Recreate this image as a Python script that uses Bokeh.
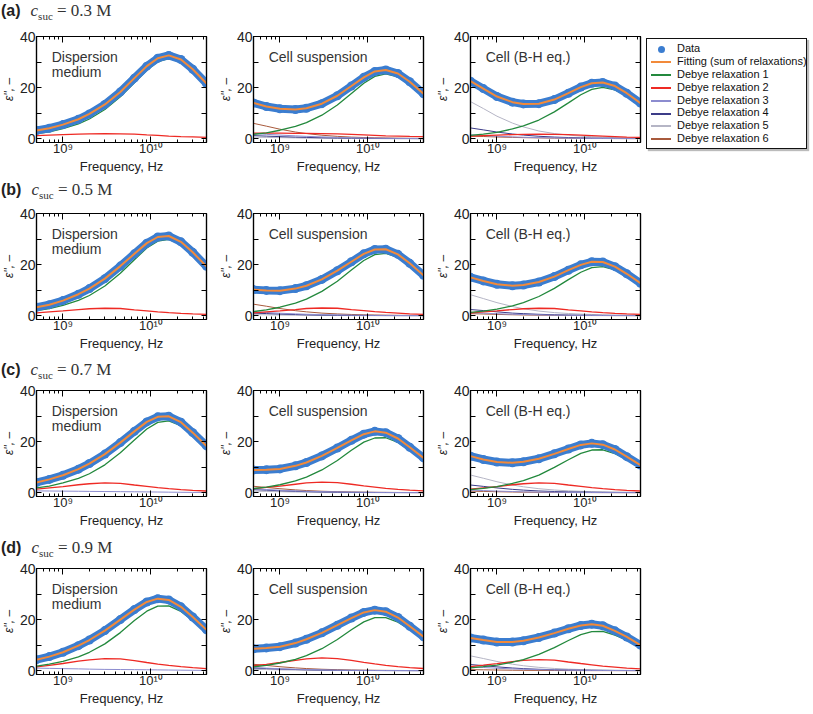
from bokeh.plotting import figure
from bokeh.models import (Range1d, FixedTicker, LogAxis, LinearAxis, Label, Div)
from bokeh.layouts import row, column
from bokeh.embed import file_html
from bokeh.resources import INLINE

# ---------------- data ----------------
FREQ_GHZ = [0.5, 0.7, 1.0, 1.5, 2.0, 3.0, 4.5, 6.5, 9.0, 12.0, 16.0, 22.0, 30.0, 43.0]

ROW_LETTERS = ["a", "b", "c", "d"]
ROW_CONC = ["0.3", "0.5", "0.7", "0.9"]
COLUMN_TITLES = [["Dispersion", "medium"], ["Cell suspension"], ["Cell (B-H eq.)"]]
LEGEND_LABELS = ["Data", "Fitting (sum of relaxations)", "Debye relaxation 1",
                 "Debye relaxation 2", "Debye relaxation 3", "Debye relaxation 4",
                 "Debye relaxation 5", "Debye relaxation 6"]

# (a) 0.3 M
a_disp_data = [3.2, 4.1, 5.5, 7.6, 9.7, 13.4, 18.3, 23.7, 28.4, 31.5, 32.6, 31.0, 27.2, 21.6]
a_disp_r1 = [2.0, 2.7, 3.9, 5.8, 7.7, 11.4, 16.4, 21.9, 26.8, 30.1, 31.4, 30.0, 26.4, 21.0]
a_disp_r2 = [1.2, 1.4, 1.6, 1.8, 1.9, 2.0, 1.9, 1.8, 1.5, 1.3, 1.0, 0.8, 0.7, 0.5]

a_susp_data = [14.0, 12.6, 11.7, 11.4, 11.9, 13.7, 16.8, 20.6, 24.0, 26.3, 26.9, 25.5, 22.3, 17.6]
a_susp_r1 = [1.7, 2.3, 3.3, 4.8, 6.3, 9.2, 13.2, 17.7, 21.7, 24.4, 25.4, 24.2, 21.1, 16.6]
a_susp_r2 = [2.2, 2.2, 2.2, 2.1, 2.1, 2.0, 1.9, 1.7, 1.5, 1.3, 1.1, 1.0, 0.9, 0.8]
a_susp_r3 = [2.0, 1.7, 1.4, 1.1, 0.9, 0.7, 0.5, 0.35, 0.25, 0.2, 0.15, 0.1, 0.08, 0.05]
a_susp_r4 = [1.2, 1.0, 0.8, 0.6, 0.5, 0.35, 0.25, 0.2, 0.15, 0.1, 0.1, 0.05, 0.05, 0.0]
a_susp_r5 = [0.6, 0.5, 0.4, 0.3, 0.2, 0.15, 0.1, 0.1, 0.05, 0.05, 0.0, 0.0, 0.0, 0.0]
a_susp_r6 = [6.0, 4.9, 3.7, 2.6, 2.0, 1.35, 0.9, 0.62, 0.45, 0.34, 0.26, 0.19, 0.14, 0.1]

a_cell_data = [22.5, 19.6, 16.5, 14.3, 13.6, 13.7, 15.3, 17.8, 20.2, 21.7, 22.0, 20.6, 17.8, 13.9]
a_cell_r1 = [1.3, 1.8, 2.5, 3.8, 5.0, 7.3, 10.5, 14.0, 17.2, 19.3, 20.1, 19.1, 16.7, 13.1]
a_cell_r2 = [1.0, 1.2, 1.4, 1.6, 1.7, 1.8, 1.7, 1.6, 1.4, 1.2, 1.0, 0.8, 0.6, 0.5]
a_cell_r3 = [1.5, 1.25, 0.95, 0.7, 0.55, 0.4, 0.3, 0.2, 0.15, 0.1, 0.08, 0.06, 0.04, 0.03]
a_cell_r4 = [4.2, 3.44, 2.6, 1.83, 1.4, 0.94, 0.63, 0.44, 0.32, 0.24, 0.18, 0.13, 0.1, 0.07]
a_cell_r5 = [14.5, 11.8, 8.8, 6.1, 4.6, 3.0, 2.0, 1.4, 1.0, 0.77, 0.58, 0.42, 0.31, 0.22]
a_cell_r6 = [1.0, 0.85, 0.65, 0.5, 0.4, 0.3, 0.2, 0.15, 0.1, 0.08, 0.06, 0.04, 0.03, 0.02]

# (b) 0.5 M
b_disp_data = [3.3, 4.3, 5.9, 8.4, 10.6, 14.5, 19.4, 24.2, 28.4, 30.8, 31.2, 28.9, 24.8, 19.3]
b_disp_r1 = [2.0, 2.8, 4.0, 6.0, 7.9, 11.6, 16.6, 21.9, 26.5, 29.2, 29.9, 27.9, 24.0, 18.6]
b_disp_r2 = [1.1, 1.5, 1.9, 2.4, 2.7, 2.9, 2.8, 2.3, 1.9, 1.5, 1.2, 0.9, 0.7, 0.5]

b_susp_data = [10.2, 9.9, 9.8, 10.6, 11.7, 14.2, 17.6, 21.1, 24.2, 25.9, 26.0, 24.0, 20.5, 15.8]
b_susp_r1 = [1.6, 2.3, 3.3, 4.9, 6.5, 9.5, 13.5, 17.9, 21.6, 23.9, 24.4, 22.8, 19.6, 15.2]
b_susp_r2 = [1.1, 1.5, 1.9, 2.4, 2.8, 3.0, 2.9, 2.4, 2.0, 1.6, 1.3, 1.0, 0.7, 0.5]
b_susp_r3 = [1.5, 1.25, 0.95, 0.7, 0.55, 0.4, 0.3, 0.2, 0.15, 0.1, 0.08, 0.06, 0.04, 0.03]
b_susp_r4 = [1.0, 0.82, 0.62, 0.44, 0.33, 0.22, 0.15, 0.1, 0.08, 0.06, 0.04, 0.03, 0.02, 0.02]
b_susp_r5 = [0.4, 0.33, 0.25, 0.17, 0.13, 0.09, 0.06, 0.04, 0.03, 0.02, 0.02, 0.01, 0.01, 0.01]
b_susp_r6 = [4.5, 3.7, 2.8, 1.96, 1.5, 1.0, 0.68, 0.47, 0.34, 0.26, 0.19, 0.14, 0.1, 0.07]

b_cell_data = [15.0, 13.6, 12.3, 11.7, 12.0, 13.2, 15.3, 17.8, 19.9, 21.1, 21.0, 19.2, 16.4, 12.7]
b_cell_r1 = [1.3, 1.8, 2.6, 3.8, 5.1, 7.5, 10.7, 14.1, 17.0, 18.8, 19.2, 17.9, 15.4, 12.0]
b_cell_r2 = [1.1, 1.5, 1.9, 2.4, 2.7, 2.9, 2.8, 2.3, 1.9, 1.5, 1.2, 0.9, 0.7, 0.5]
b_cell_r3 = [1.2, 1.0, 0.75, 0.55, 0.45, 0.3, 0.2, 0.15, 0.1, 0.08, 0.06, 0.04, 0.03, 0.02]
b_cell_r4 = [2.4, 2.0, 1.5, 1.0, 0.8, 0.54, 0.36, 0.25, 0.18, 0.14, 0.1, 0.07, 0.06, 0.04]
b_cell_r5 = [8.2, 6.7, 5.1, 3.6, 2.7, 1.8, 1.2, 0.85, 0.62, 0.47, 0.35, 0.25, 0.19, 0.13]
b_cell_r6 = [0.8, 0.65, 0.5, 0.35, 0.27, 0.18, 0.12, 0.08, 0.06, 0.05, 0.04, 0.03, 0.02, 0.01]

# (c) 0.7 M
c_disp_data = [4.0, 5.2, 6.8, 9.2, 11.4, 15.1, 19.6, 24.0, 27.7, 29.7, 29.9, 27.6, 23.5, 18.3]
c_disp_r1 = [1.9, 2.6, 3.8, 5.6, 7.4, 10.9, 15.6, 20.6, 24.9, 27.5, 28.1, 26.2, 22.5, 17.5]
c_disp_r2 = [1.4, 1.9, 2.4, 3.1, 3.5, 3.8, 3.6, 3.0, 2.5, 2.0, 1.6, 1.2, 0.9, 0.65]
c_disp_r3 = [0.7, 0.65, 0.6, 0.55, 0.5, 0.45, 0.4, 0.35, 0.3, 0.25, 0.2, 0.15, 0.1, 0.1]

c_susp_data = [8.9, 9.0, 9.3, 10.5, 11.8, 14.4, 17.5, 20.5, 22.9, 24.0, 23.5, 21.2, 17.8, 13.6]
c_susp_r1 = [1.6, 2.2, 3.1, 4.6, 6.1, 8.9, 12.6, 16.6, 19.8, 21.4, 21.5, 19.7, 16.6, 12.8]
c_susp_r2 = [1.6, 2.1, 2.6, 3.3, 3.8, 4.1, 3.9, 3.3, 2.7, 2.2, 1.7, 1.3, 1.0, 0.7]
c_susp_r3 = [1.5, 1.25, 0.95, 0.7, 0.55, 0.4, 0.3, 0.2, 0.15, 0.1, 0.08, 0.06, 0.04, 0.03]
c_susp_r4 = [1.2, 0.98, 0.74, 0.52, 0.4, 0.27, 0.18, 0.12, 0.09, 0.07, 0.05, 0.04, 0.03, 0.02]
c_susp_r5 = [0.6, 0.5, 0.37, 0.26, 0.2, 0.13, 0.09, 0.06, 0.05, 0.03, 0.03, 0.02, 0.01, 0.01]
c_susp_r6 = [2.5, 2.05, 1.55, 1.09, 0.83, 0.56, 0.38, 0.26, 0.19, 0.14, 0.11, 0.08, 0.06, 0.04]

c_cell_data = [14.3, 13.0, 12.0, 11.7, 12.1, 13.3, 15.2, 17.1, 18.7, 19.3, 18.8, 16.9, 14.1, 10.8]
c_cell_r1 = [1.2, 1.7, 2.4, 3.6, 4.7, 6.9, 9.9, 12.9, 15.4, 16.7, 16.8, 15.3, 13.0, 10.0]
c_cell_r2 = [1.4, 1.9, 2.4, 3.1, 3.5, 3.8, 3.6, 3.0, 2.5, 2.0, 1.6, 1.2, 0.9, 0.65]
c_cell_r3 = [1.0, 0.82, 0.62, 0.44, 0.33, 0.22, 0.15, 0.1, 0.08, 0.06, 0.04, 0.03, 0.02, 0.02]
c_cell_r4 = [3.0, 2.46, 1.86, 1.3, 1.0, 0.67, 0.45, 0.31, 0.23, 0.17, 0.13, 0.09, 0.07, 0.05]
c_cell_r5 = [6.9, 5.66, 4.28, 3.0, 2.3, 1.55, 1.04, 0.72, 0.52, 0.39, 0.3, 0.21, 0.16, 0.11]
c_cell_r6 = [0.6, 0.49, 0.37, 0.26, 0.2, 0.13, 0.09, 0.06, 0.05, 0.03, 0.03, 0.02, 0.01, 0.01]

# (d) 0.9 M
d_disp_data = [4.3, 5.5, 7.2, 9.8, 12.0, 15.7, 20.0, 23.9, 26.9, 28.2, 27.7, 25.0, 21.0, 16.0]
d_disp_r1 = [1.8, 2.6, 3.6, 5.4, 7.2, 10.5, 14.9, 19.6, 23.3, 25.3, 25.4, 23.2, 19.6, 15.1]
d_disp_r2 = [1.5, 2.1, 2.8, 3.7, 4.2, 4.7, 4.6, 3.9, 3.2, 2.6, 2.1, 1.6, 1.2, 0.8]
d_disp_r3 = [1.0, 0.9, 0.8, 0.7, 0.6, 0.5, 0.45, 0.4, 0.35, 0.3, 0.25, 0.2, 0.15, 0.1]

d_susp_data = [8.6, 8.9, 9.4, 10.8, 12.3, 14.8, 17.8, 20.6, 22.8, 23.7, 23.1, 20.8, 17.4, 13.3]
d_susp_r1 = [1.5, 2.1, 3.0, 4.45, 5.9, 8.6, 12.2, 16.0, 19.1, 20.75, 20.8, 19.0, 16.1, 12.4]
d_susp_r2 = [1.9, 2.5, 3.2, 4.05, 4.6, 5.0, 4.75, 4.0, 3.25, 2.65, 2.1, 1.6, 1.2, 0.85]
d_susp_r3 = [1.2, 1.0, 0.75, 0.55, 0.45, 0.3, 0.2, 0.15, 0.1, 0.08, 0.06, 0.04, 0.03, 0.02]
d_susp_r4 = [1.0, 0.82, 0.62, 0.44, 0.33, 0.22, 0.15, 0.1, 0.08, 0.06, 0.04, 0.03, 0.02, 0.02]
d_susp_r5 = [0.5, 0.41, 0.31, 0.22, 0.17, 0.11, 0.08, 0.05, 0.04, 0.03, 0.02, 0.02, 0.01, 0.01]
d_susp_r6 = [2.5, 2.05, 1.55, 1.09, 0.83, 0.56, 0.38, 0.26, 0.19, 0.14, 0.11, 0.08, 0.06, 0.04]

d_cell_data = [12.8, 12.0, 11.2, 11.2, 11.7, 13.0, 14.7, 16.4, 17.7, 18.2, 17.6, 15.6, 13.2, 10.0]
d_cell_r1 = [1.1, 1.55, 2.2, 3.3, 4.3, 6.35, 9.0, 11.8, 14.1, 15.3, 15.4, 13.9, 11.9, 9.1]
d_cell_r2 = [1.6, 2.15, 2.75, 3.5, 4.0, 4.3, 4.1, 3.4, 2.8, 2.3, 1.8, 1.4, 1.0, 0.7]
d_cell_r3 = [1.5, 1.25, 0.95, 0.7, 0.55, 0.4, 0.3, 0.2, 0.15, 0.1, 0.08, 0.06, 0.04, 0.03]
d_cell_r4 = [2.4, 1.97, 1.49, 1.04, 0.8, 0.54, 0.36, 0.25, 0.18, 0.14, 0.1, 0.07, 0.06, 0.04]
d_cell_r5 = [5.8, 4.76, 3.6, 2.52, 1.93, 1.3, 0.87, 0.6, 0.44, 0.33, 0.25, 0.18, 0.13, 0.09]
d_cell_r6 = [0.4, 0.33, 0.25, 0.17, 0.13, 0.09, 0.06, 0.04, 0.03, 0.02, 0.02, 0.01, 0.01, 0.01]

PANELS = [
    [dict(data=a_disp_data, r=[a_disp_r1, a_disp_r2]),
     dict(data=a_susp_data, r=[a_susp_r1, a_susp_r2, a_susp_r3, a_susp_r4, a_susp_r5, a_susp_r6]),
     dict(data=a_cell_data, r=[a_cell_r1, a_cell_r2, a_cell_r3, a_cell_r4, a_cell_r5, a_cell_r6])],
    [dict(data=b_disp_data, r=[b_disp_r1, b_disp_r2]),
     dict(data=b_susp_data, r=[b_susp_r1, b_susp_r2, b_susp_r3, b_susp_r4, b_susp_r5, b_susp_r6]),
     dict(data=b_cell_data, r=[b_cell_r1, b_cell_r2, b_cell_r3, b_cell_r4, b_cell_r5, b_cell_r6])],
    [dict(data=c_disp_data, r=[c_disp_r1, c_disp_r2, c_disp_r3]),
     dict(data=c_susp_data, r=[c_susp_r1, c_susp_r2, c_susp_r3, c_susp_r4, c_susp_r5, c_susp_r6]),
     dict(data=c_cell_data, r=[c_cell_r1, c_cell_r2, c_cell_r3, c_cell_r4, c_cell_r5, c_cell_r6])],
    [dict(data=d_disp_data, r=[d_disp_r1, d_disp_r2, d_disp_r3]),
     dict(data=d_susp_data, r=[d_susp_r1, d_susp_r2, d_susp_r3, d_susp_r4, d_susp_r5, d_susp_r6]),
     dict(data=d_cell_data, r=[d_cell_r1, d_cell_r2, d_cell_r3, d_cell_r4, d_cell_r5, d_cell_r6])],
]

# ---------------- styles ----------------
BLUE = "#3b7dd0"
ORANGE = "#f28a3a"
REL_COLORS = ["#23893d", "#ee2a24", "#8c8ccf", "#3c3c88", "#b5b5c5", "#a85a3c"]
REL_WIDTHS = [1.3, 1.3, 1.0, 1.0, 1.0, 1.0]
SANS = "Liberation Sans"
X_MAJOR = [1e9, 1e10]
X_MINOR = [5e8, 6e8, 7e8, 8e8, 9e8, 2e9, 3e9, 4e9, 5e9, 6e9, 7e9, 8e9, 9e9, 2e10, 3e10, 4e10]
Y_MAJOR = [0, 20, 40]
Y_MINOR = [10, 30]

freq_hz = [f * 1e9 for f in FREQ_GHZ]


def style_axis(ax, show_labels):
    ax.axis_line_color = "black"
    ax.axis_line_width = 1.2
    ax.major_tick_line_color = "black"
    ax.minor_tick_line_color = "black"
    ax.major_tick_out = 0
    ax.minor_tick_out = 0
    if not show_labels:
        ax.major_label_text_font_size = "1px"
        ax.major_label_text_alpha = 0
        ax.major_label_standoff = 0


def make_panel(pdef, col_titles, bottom_border):
    p = figure(x_axis_type="log", frame_width=170, frame_height=106,
               x_range=Range1d(5e8, 4.3e10), y_range=Range1d(-1.5, 40),
               toolbar_location=None, output_backend="svg",
               min_border_left=33, min_border_right=9, min_border_top=7,
               min_border_bottom=bottom_border)
    p.grid.visible = False
    p.outline_line_color = "black"
    p.outline_line_width = 1.2
    p.background_fill_color = "white"
    p.border_fill_color = "white"

    xa = p.xaxis[0]
    xa.ticker = FixedTicker(ticks=X_MAJOR, minor_ticks=X_MINOR)
    style_axis(xa, True)
    xa.major_tick_in = 6
    xa.minor_tick_in = 3
    xa.major_label_overrides = {1e9: "10\u2079", 1e10: "10\u00b9\u2070"}
    xa.major_label_text_font = SANS
    xa.major_label_text_font_size = "13px"
    xa.major_label_text_color = "#222222"
    xa.major_label_standoff = -2
    xa.axis_label = "Frequency, Hz"
    xa.axis_label_text_font = SANS
    xa.axis_label_text_font_size = "13px"
    xa.axis_label_text_font_style = "normal"
    xa.axis_label_text_color = "#222222"
    xa.axis_label_standoff = 0

    ya = p.yaxis[0]
    ya.ticker = FixedTicker(ticks=Y_MAJOR, minor_ticks=Y_MINOR)
    style_axis(ya, True)
    ya.major_tick_in = 5
    ya.minor_tick_in = 5
    ya.major_label_text_font = SANS
    ya.major_label_text_font_size = "14px"
    ya.major_label_text_color = "#222222"
    ya.major_label_standoff = 1
    ya.axis_label = "\u03b5'', \u2013"
    ya.axis_label_text_font = SANS
    ya.axis_label_text_font_size = "12px"
    ya.axis_label_text_font_style = "italic"
    ya.axis_label_text_color = "#222222"
    ya.axis_label_standoff = 1

    top = LogAxis(ticker=FixedTicker(ticks=X_MAJOR, minor_ticks=X_MINOR))
    style_axis(top, False)
    top.major_tick_in = 6
    top.minor_tick_in = 3
    p.add_layout(top, "above")
    right = LinearAxis(ticker=FixedTicker(ticks=Y_MAJOR, minor_ticks=Y_MINOR))
    style_axis(right, False)
    right.major_tick_in = 5
    right.minor_tick_in = 5
    p.add_layout(right, "right")

    # relaxation components (drawn last-to-first so relaxation 1 sits on top)
    rels = pdef["r"]
    for k in range(len(rels) - 1, -1, -1):
        p.line(freq_hz, rels[k], line_color=REL_COLORS[k], line_width=REL_WIDTHS[k])
    # measured data (thick band of markers) and fit
    p.line(freq_hz, pdef["data"], line_color=BLUE, line_width=8, line_join="round")
    p.scatter(freq_hz, pdef["data"], size=9, fill_color=BLUE, line_color=None)
    p.line(freq_hz, pdef["data"], line_color=ORANGE, line_width=2)

    for i, t in enumerate(col_titles):
        p.add_layout(Label(x=7.45e8, y=35.0 - i * 5.6, text=t, text_font=SANS,
                           text_font_size="14px", text_baseline="top",
                           text_color="#333333"))
    return p


def title_div(letter, conc, pad_top, height):
    html = (f'<div style="padding-top:{pad_top}px;padding-left:3px;white-space:nowrap;line-height:16px;">'
            f'<span style="font-family:\'Liberation Sans\',Arial;font-weight:bold;font-size:16px;color:#222">({letter})</span>'
            f'<span style="font-family:\'Liberation Serif\',\'Times New Roman\';font-size:17px;margin-left:10px;color:#333">'
            f'<i>c</i><span style="font-size:11px;vertical-align:-4px;line-height:0">suc</span> = {conc} M</span></div>')
    return Div(text=html, width=400, height=height, margin=0)


def legend_div():
    swatches = ['<span style="display:inline-block;width:20px;text-align:center;'
                'vertical-align:middle;margin-right:6px;line-height:0">'
                f'<span style="display:inline-block;width:7px;height:7px;border-radius:50%;'
                f'background-color:{BLUE}"></span></span>']
    for c in [ORANGE] + REL_COLORS:
        swatches.append('<span style="display:inline-block;width:20px;height:2px;'
                        f'vertical-align:middle;margin-right:6px;background-color:{c}"></span>')
    items = "".join(
        f'<div style="height:12.9px;line-height:12.9px;white-space:nowrap">{s}{lab}</div>'
        for s, lab in zip(swatches, LEGEND_LABELS))
    html = (f'<div style="margin-left:-3px;margin-top:9px;width:161px;box-sizing:border-box;'
            f'border:1.5px solid #111;padding:3px 0 3px 4px;background:#fff;'
            f'box-shadow:2px 2px 1px #bbb;font-family:\'Liberation Sans\',Arial;'
            f'font-size:11px;color:#111">{items}</div>')
    return Div(text=html, width=168, height=153, margin=0)


rows = []
div_pads = [4, 0, 1, 2]
div_heights = [30, 24, 22, 23]
bottoms = [40, 42, 42, 0]
for ri in range(4):
    figs = [make_panel(PANELS[ri][ci], COLUMN_TITLES[ci], bottoms[ri]) for ci in range(3)]
    if ri == 0:
        figs.append(legend_div())
    rows.append(title_div(ROW_LETTERS[ri], ROW_CONC[ri], div_pads[ri], div_heights[ri]))
    rows.append(row(*figs, spacing=0))

layout = column(*rows, spacing=0, margin=(-1, 0, 0, -2))

open("out.html", "w").write(file_html(layout, INLINE))
